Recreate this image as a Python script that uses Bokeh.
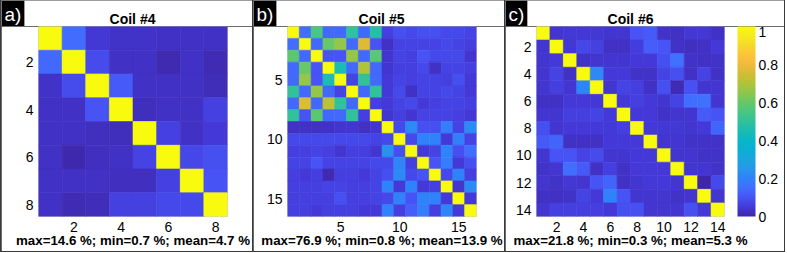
import numpy as np
from bokeh.plotting import figure
from bokeh.models import (ColumnDataSource, LinearColorMapper, ColorBar, FixedTicker,
                          Label, Range1d, Spacer)
from bokeh.layouts import row, column
from bokeh.embed import file_html
from bokeh.resources import INLINE

# ---------------- data (coupling matrices, fraction of 1) ----------------
coil4 = [
    [1.000, 0.146, 0.045, 0.032, 0.032, 0.030, 0.028, 0.028],
    [0.140, 1.000, 0.085, 0.028, 0.028, 0.010, 0.028, 0.015],
    [0.032, 0.085, 1.000, 0.110, 0.028, 0.028, 0.028, 0.018],
    [0.030, 0.028, 0.100, 1.000, 0.020, 0.028, 0.028, 0.065],
    [0.030, 0.028, 0.025, 0.020, 1.000, 0.065, 0.028, 0.050],
    [0.030, 0.007, 0.025, 0.030, 0.070, 1.000, 0.075, 0.090],
    [0.028, 0.030, 0.030, 0.025, 0.025, 0.065, 1.000, 0.100],
    [0.028, 0.015, 0.018, 0.065, 0.065, 0.080, 0.080, 1.000],
]

coil5 = [
    [1.00, .15, .55, .14, .14, .50, .14, .48, .06, .09, .08, .09, .09, .08, .08, .07],
    [.15, 1.00, .14, .60, .66, .14, .769, .10, .03, .07, .07, .07, .07, .08, .07, .06],
    [.58, .14, 1.00, .10, .10, .66, .14, .58, .04, .07, .06, .10, .08, .08, .08, .04],
    [.14, .60, .10, 1.00, .45, .14, .70, .14, .04, .06, .06, .08, .03, .07, .07, .06],
    [.14, .66, .10, .45, 1.00, .07, .50, .14, .05, .07, .06, .07, .07, .06, .09, .05],
    [.50, .14, .66, .14, .07, 1.00, .14, .50, .05, .08, .03, .07, .07, .08, .07, .05],
    [.14, .76, .14, .72, .50, .14, 1.00, .06, .05, .07, .08, .05, .06, .07, .07, .06],
    [.50, .10, .58, .14, .14, .50, .06, 1.00, .04, .06, .04, .07, .07, .07, .06, .05],
    [.03, .03, .03, .03, .04, .04, .03, .04, 1.00, .08, .22, .09, .09, .19, .07, .22],
    [.08, .08, .08, .08, .08, .08, .08, .07, .08, 1.00, .08, .20, .20, .05, .19, .07],
    [.06, .06, .07, .06, .04, .06, .06, .04, .24, .09, 1.00, .05, .07, .20, .09, .15],
    [.07, .07, .10, .07, .07, .07, .07, .08, .08, .21, .06, 1.00, .10, .19, .05, .09],
    [.06, .05, .06, .008, .06, .06, .05, .07, .09, .22, .08, .10, 1.00, .08, .20, .06],
    [.06, .06, .06, .07, .07, .06, .06, .07, .20, .05, .20, .05, .06, 1.00, .04, .22],
    [.06, .06, .06, .06, .09, .06, .06, .07, .08, .20, .10, .20, .20, .05, 1.00, .05],
    [.06, .06, .05, .06, .06, .06, .05, .05, .20, .06, .12, .19, .06, .21, .05, 1.00],
]

coil6 = [
    [1.00, .040, .045, .045, .045, .040, .040, .100, .110, .035, .030, .045, .045, .030],
    [.040, 1.00, .045, .075, .065, .030, .030, .055, .120, .105, .035, .025, .030, .050],
    [.040, .050, 1.00, .035, .040, .040, .040, .050, .050, .090, .160, .035, .030, .035],
    [.040, .070, .030, 1.00, .218, .050, .050, .035, .035, .070, .090, .030, .070, .030],
    [.040, .060, .040, .210, 1.00, .040, .070, .060, .030, .090, .015, .095, .040, .040],
    [.030, .030, .050, .050, .045, 1.00, .050, .060, .050, .040, .070, .150, .160, .040],
    [.040, .040, .060, .060, .070, .050, 1.00, .050, .050, .035, .040, .040, .110, .100],
    [.090, .040, .050, .050, .050, .050, .060, 1.00, .050, .045, .045, .040, .050, .130],
    [.110, .130, .030, .030, .030, .050, .050, .050, 1.00, .040, .040, .035, .035, .035],
    [.040, .100, .100, .070, .085, .040, .040, .050, .050, 1.00, .040, .040, .035, .035],
    [.035, .040, .150, .110, .030, .060, .030, .050, .050, .050, 1.00, .040, .040, .035],
    [.040, .035, .045, .040, .100, .130, .030, .040, .050, .050, .040, 1.00, .003, .080],
    [.030, .030, .035, .070, .050, .200, .100, .040, .040, .040, .035, .040, 1.00, .040],
    [.040, .060, .060, .060, .060, .050, .090, .090, .040, .040, .040, .090, .050, 1.00],
]

titles = ["Coil #4", "Coil #5", "Coil #6"]
stats = ["max=14.6 %; min=0.7 %; mean=4.7 %",
         "max=76.9 %; min=0.8 %; mean=13.9 %",
         "max=21.8 %; min=0.3 %; mean=5.3 %"]
panel_labels = ["a)", "b)", "c)"]
ticks4 = [2, 4, 6, 8]
ticks5 = [5, 10, 15]
ticks6 = [2, 4, 6, 8, 10, 12, 14]
cbar_ticks = [0, 0.2, 0.4, 0.6, 0.8, 1]

# ---------------- parula-like palette ----------------
anchors = [
    (0.00, (0.2422, 0.1504, 0.6603)), (0.05, (0.2670, 0.2300, 0.8570)),
    (0.10, (0.2780, 0.3310, 0.9640)), (0.15, (0.2545, 0.4340, 0.9970)),
    (0.20, (0.1900, 0.5100, 0.9790)), (0.25, (0.1540, 0.5900, 0.9220)),
    (0.30, (0.1085, 0.6465, 0.8751)), (0.35, (0.0424, 0.6893, 0.8284)),
    (0.40, (0.0300, 0.7150, 0.7820)), (0.45, (0.1030, 0.7370, 0.7030)),
    (0.50, (0.1870, 0.7600, 0.6080)), (0.55, (0.2850, 0.7780, 0.5070)),
    (0.60, (0.4050, 0.7830, 0.4050)), (0.65, (0.5540, 0.7770, 0.3020)),
    (0.70, (0.6910, 0.7650, 0.2260)), (0.75, (0.8200, 0.7430, 0.2000)),
    (0.80, (0.9390, 0.7300, 0.2450)), (0.85, (0.9965, 0.7650, 0.2220)),
    (0.90, (0.9660, 0.8450, 0.1720)), (0.95, (0.9626, 0.9150, 0.1205)),
    (1.00, (0.9763, 0.9831, 0.0538)),
]
pos = np.array([a[0] for a in anchors])
rgb = np.array([a[1] for a in anchors])
t = np.linspace(0, 1, 256)
palette = []
for tt in t:
    c = [np.interp(tt, pos, rgb[:, k]) for k in range(3)]
    palette.append("#%02x%02x%02x" % tuple(int(round(v * 255)) for v in c))

FONT = "Liberation Sans"
BORDER = "#3a3a3a"
STRIP_H = 26
FRAME_H, BOTTOM = 190, 35
MAIN_H = FRAME_H + BOTTOM


def make_strip(width, title, label, title_x):
    """Top strip of a panel: panel letter in a black box and the panel title."""
    s = figure(width=width, height=STRIP_H, x_range=Range1d(0, 1), y_range=Range1d(0, 1),
               output_backend="svg", toolbar_location=None, x_axis_type=None,
               y_axis_type=None, min_border_left=0, min_border_right=0,
               min_border_top=0, min_border_bottom=0)
    s.outline_line_color = None
    s.background_fill_color = "white"
    s.border_fill_color = "white"
    s.add_layout(Label(x=0, y=STRIP_H, x_units="screen", y_units="screen", text=label,
                       text_color="white", text_font=FONT, text_font_size="19px",
                       text_align="left", text_baseline="top",
                       background_fill_color="black", padding=3))
    s.add_layout(Label(x=title_x, y=STRIP_H - 10, x_units="screen", y_units="screen",
                       text=title, text_color="black", text_font=FONT,
                       text_font_size="14px", text_font_style="bold",
                       text_align="center", text_baseline="top"))
    return s


def make_panel(mat, stat, ticks, width, left, right, cbar=False):
    n = len(mat)
    xs, ys, vs = [], [], []
    for i in range(n):
        for j in range(n):
            xs.append(j + 1)
            ys.append(i + 1)
            vs.append(mat[i][j])
    src = ColumnDataSource(dict(x=xs, y=ys, v=vs))
    mapper = LinearColorMapper(palette=palette, low=0, high=1)
    p = figure(width=width, height=MAIN_H, x_range=Range1d(0.5, n + 0.5),
               y_range=Range1d(n + 0.5, 0.5), output_backend="svg",
               toolbar_location=None, min_border_left=left, min_border_right=right,
               min_border_top=0, min_border_bottom=BOTTOM)
    p.rect("x", "y", width=1, height=1, source=src,
           fill_color={"field": "v", "transform": mapper},
           line_color={"field": "v", "transform": mapper}, line_width=0.6)
    p.grid.visible = False
    p.outline_line_color = None
    p.background_fill_color = "white"
    p.border_fill_color = "white"
    for ax in (p.xaxis[0], p.yaxis[0]):
        ax.ticker = FixedTicker(ticks=ticks)
        ax.axis_line_color = None
        ax.major_tick_line_color = None
        ax.minor_tick_line_color = None
        ax.major_tick_out = 0
        ax.major_tick_in = 0
        ax.minor_tick_out = 0
        ax.major_label_text_font = FONT
        ax.major_label_text_font_size = "14px"
        ax.major_label_text_color = "black"
    p.xaxis.major_label_standoff = 5
    p.yaxis.major_label_standoff = 5
    p.xaxis.axis_label = stat
    p.xaxis.axis_label_text_font = FONT
    p.xaxis.axis_label_text_font_size = "13.3px"
    p.xaxis.axis_label_text_font_style = "bold"
    p.xaxis.axis_label_text_color = "black"
    p.xaxis.axis_label_standoff = -2

    if cbar:
        cb = ColorBar(color_mapper=mapper, ticker=FixedTicker(ticks=cbar_ticks),
                      width=18, height=FRAME_H, padding=0, margin=0, location=(13, 0),
                      major_label_text_font=FONT, major_label_text_font_size="14px",
                      major_label_text_color="black",
                      major_tick_line_color=None, minor_tick_line_color=None,
                      bar_line_color=None, border_line_color=None,
                      background_fill_color=None, label_standoff=3,
                      major_label_overrides={0: "0", 0.2: "0.2", 0.4: "0.4",
                                             0.6: "0.6", 0.8: "0.8", 1: "1"})
        p.add_layout(cb, "right")
    return p


sa = make_strip(251, titles[0], panel_labels[0], 131)
sb = make_strip(251, titles[1], panel_labels[1], 128)
sc = make_strip(279, titles[2], panel_labels[2], 125)
pa = make_panel(coil4, stats[0], ticks4, 251, 37, 25)
pb = make_panel(coil5, stats[1], ticks5, 251, 34, 28)
pc = make_panel(coil6, stats[2], ticks6, 279, 31, 60, cbar=True)


def vline(h):
    return Spacer(width=1, height=h)


top = row(vline(STRIP_H), sa, vline(STRIP_H), sb, vline(STRIP_H), sc, vline(STRIP_H))
main = row(vline(MAIN_H), pa, vline(MAIN_H), pb, vline(MAIN_H), pc, vline(MAIN_H))
layout = column(top, main, Spacer(width=785, height=1),
                styles={"background-color": BORDER})

open("out.html", "w").write(file_html(layout, INLINE))
